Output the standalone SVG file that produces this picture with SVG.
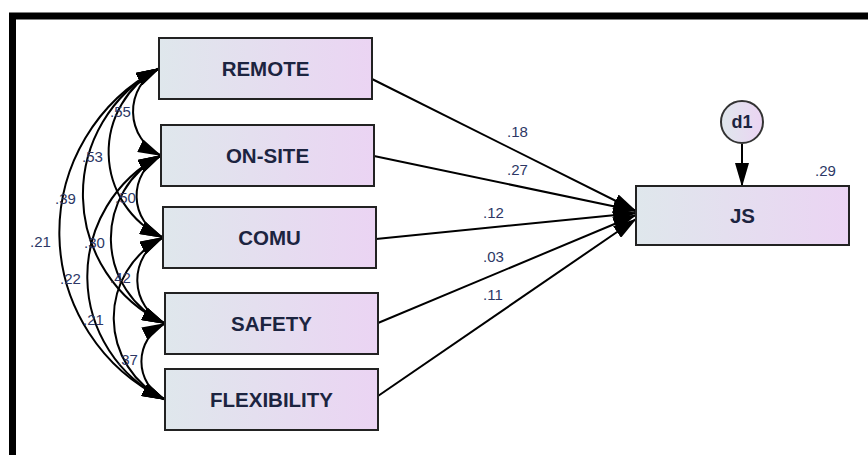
<svg xmlns="http://www.w3.org/2000/svg" width="868" height="455" viewBox="0 0 868 455">
<style>
.box{fill:url(#g);stroke:#222;stroke-width:2}
.lbl{font-family:"Liberation Sans",Arial,sans-serif;font-size:20.5px;font-weight:bold;fill:#1c2440;text-anchor:middle;dominant-baseline:central}
.num{font-family:"Liberation Sans",Arial,sans-serif;font-size:15px;fill:#2d3765}
.ln{fill:none;stroke:#000;stroke-width:2}
.one{marker-end:url(#ah)}
.two{marker-start:url(#ah);marker-end:url(#ah)}
</style>
<defs>
<linearGradient id="g" x1="0" y1="0" x2="1" y2="0">
<stop offset="0" stop-color="#dfe7ec"/>
<stop offset="1" stop-color="#ebd4f3"/>
</linearGradient>
<marker id="ah" markerUnits="userSpaceOnUse" markerWidth="24" markerHeight="14" refX="23" refY="7" orient="auto-start-reverse" viewBox="0 0 24 14">
<path d="M0,0 L24,7 L0,14 Z" fill="#000"/>
</marker>
</defs>
<rect width="868" height="455" fill="#fff"/>
<rect x="12.5" y="16" width="900" height="500" fill="none" stroke="#000" stroke-width="7"/>
<g id="connectors">
<path class="ln one" d="M372,79 L636,211"/>
<path class="ln one" d="M374,156 L636,211"/>
<path class="ln one" d="M376,239 L636,213"/>
<path class="ln one" d="M378,323 L636,215"/>
<path class="ln one" d="M378,396 L636,219"/>
<path class="ln one" d="M742,144 L742,186"/>
<path class="ln two" d="M159,68.5 A48.6,48.6 0 0 0 161,155.5"/>
<path class="ln two" d="M159,68.5 A94.4,94.4 0 0 0 163,237.5"/>
<path class="ln two" d="M159,68.5 A142.4,142.4 0 0 0 165,323.5"/>
<path class="ln two" d="M159,68.5 A184.8,184.8 0 0 0 165,399.5"/>
<path class="ln two" d="M161,155.5 A45.8,45.8 0 0 0 163,237.5"/>
<path class="ln two" d="M161,155.5 A93.8,93.8 0 0 0 165,323.5"/>
<path class="ln two" d="M161,155.5 A136.2,136.2 0 0 0 165,399.5"/>
<path class="ln two" d="M163,237.5 A48,48 0 0 0 165,323.5"/>
<path class="ln two" d="M163,237.5 A90.4,90.4 0 0 0 165,399.5"/>
<path class="ln two" d="M165,323.5 A42.4,42.4 0 0 0 165,399.5"/>
</g>
<g id="labels">
<text class="num" x="507" y="137">.18</text>
<text class="num" x="507" y="175">.27</text>
<text class="num" x="483" y="218">.12</text>
<text class="num" x="483" y="262">.03</text>
<text class="num" x="483" y="300">.11</text>
<text class="num" x="815" y="176">.29</text>
<text class="num" x="110" y="117">.55</text>
<text class="num" x="82" y="162">.53</text>
<text class="num" x="55" y="204">.39</text>
<text class="num" x="30" y="247">.21</text>
<text class="num" x="115" y="203">.50</text>
<text class="num" x="84" y="248">.30</text>
<text class="num" x="60" y="284">.22</text>
<text class="num" x="110" y="283">.42</text>
<text class="num" x="83" y="325">.21</text>
<text class="num" x="117" y="365">.37</text>
</g>
<g id="REMOTE"><rect class="box" x="159" y="38" width="213" height="61"/><text class="lbl" x="265.5" y="68.5">REMOTE</text></g>
<g id="ON-SITE"><rect class="box" x="161" y="125" width="213" height="61"/><text class="lbl" x="267.5" y="155.5">ON-SITE</text></g>
<g id="COMU"><rect class="box" x="163" y="207" width="213" height="61"/><text class="lbl" x="269.5" y="237.5">COMU</text></g>
<g id="SAFETY"><rect class="box" x="165" y="293" width="213" height="61"/><text class="lbl" x="271.5" y="323.5">SAFETY</text></g>
<g id="FLEXIBILITY"><rect class="box" x="165" y="369" width="213" height="61"/><text class="lbl" x="271.5" y="399.5">FLEXIBILITY</text></g>
<g id="JS"><rect class="box" x="636" y="186" width="213" height="59"/><text class="lbl" x="742.5" y="215.5">JS</text></g>
<g id="d1"><circle cx="742" cy="122" r="21" fill="url(#g)" stroke="#333" stroke-width="2"/><text class="lbl" x="742" y="122" style="font-size:18px">d1</text></g>
</svg>
